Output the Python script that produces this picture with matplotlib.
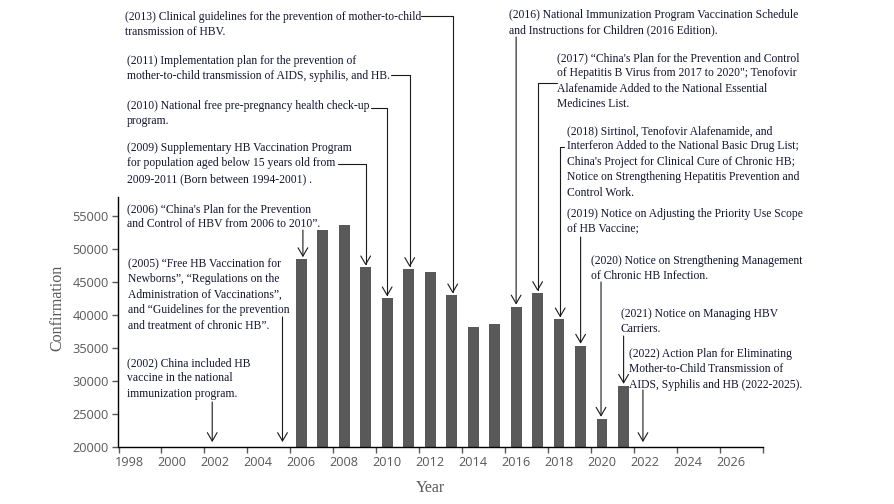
import matplotlib
matplotlib.use('Agg')
import matplotlib.pyplot as plt

# Jahreswerte (Balken)
years = list(range(2006, 2022))
cases = [48500, 52900, 53750, 47250, 42550, 47000, 46600, 43000,
         38150, 38650, 41300, 43350, 39350, 35350, 24250, 29250]

# Politische Ereignisse
policy_years = [2002, 2005, 2006, 2009, 2010, 2011, 2013,
                2016, 2017, 2018, 2019, 2020, 2021, 2022]
policy_texts = [
    "(2002) China included HB\nvaccine in the national\nimmunization program.",
    "(2005) \u201cFree HB Vaccination for\nNewborns\u201d, \u201cRegulations on the\n"
    "Administration of Vaccinations\u201d,\nand \u201cGuidelines for the prevention\n"
    "and treatment of chronic HB\u201d.",
    "(2006) \u201cChina's Plan for the Prevention\nand Control of HBV from 2006 to 2010\u201d.",
    "(2009) Supplementary HB Vaccination Program\nfor population aged below 15 years old from\n"
    "2009-2011 (Born between 1994-2001) .",
    "(2010) National free pre-pregnancy health check-up\nprogram.",
    "(2011) Implementation plan for the prevention of\n"
    "mother-to-child transmission of AIDS, syphilis, and HB.",
    "(2013) Clinical guidelines for the prevention of mother-to-child\ntransmission of HBV.",
    "(2016) National Immunization Program Vaccination Schedule\n"
    "and Instructions for Children (2016 Edition).",
    "(2017) \u201cChina's Plan for the Prevention and Control\n"
    "of Hepatitis B Virus from 2017 to 2020\"; Tenofovir\n"
    "Alafenamide Added to the National Essential\nMedicines List.",
    "(2018) Sirtinol, Tenofovir Alafenamide, and\nInterferon Added to the National Basic Drug List;\n"
    "China's Project for Clinical Cure of Chronic HB;\nNotice on Strengthening Hepatitis Prevention and\n"
    "Control Work.",
    "(2019) Notice on Adjusting the Priority Use Scope\nof HB Vaccine;",
    "(2020) Notice on Strengthening Management\nof Chronic HB Infection.",
    "(2021) Notice on Managing HBV\nCarriers.",
    "(2022) Action Plan for Eliminating\nMother-to-Child Transmission of\n"
    "AIDS, Syphilis and HB (2022-2025).",
]

# Layout (Pixel, von oben): Textposition, Linienstart, Pfeil-x
text_pos = [(127, 357), (128, 258), (127, 203), (127, 142), (127, 100), (127, 55), (125, 11),
            (509, 9), (557, 52), (567, 125), (567, 208), (591, 255), (621, 308), (629, 348)]
line_start = [(None, 402), (None, 317), (None, 230), (338, 164), (371, 108), (391, 75), (421, 16),
              (None, 37), (557, 83), (564, 147), (None, 237), (None, 282), (None, 336), (None, 390)]
arrow_x = [2001.86, 2005.13, 2006.08, 2009.0, 2010.0, 2011.05, 2013.05,
           2016.0, 2017.0, 2018.05, 2019.0, 2019.95, 2021.0, 2021.9]

W, H = 895, 504
fig = plt.figure(figsize=(W / 100, H / 100), dpi=100)
ax = fig.add_axes([118.5 / W, (H - 446.7) / H, (763.3 - 118.5) / W, 250 / H])

ax.bar(years, cases, width=0.5, color='#595959', zorder=2)

ax.set_xlim(1997.5, 2027.5)
ax.set_ylim(20000, 58000)
ax.set_yticks(range(20000, 55001, 5000))
ax.set_xticks(range(1998, 2027, 2))
ax.set_xticks([1997.5 + 2 * i for i in range(16)], minor=True)

grey = '#595959'
for lab in ax.get_xticklabels() + ax.get_yticklabels():
    lab.set_fontfamily('Open Sans')
    lab.set_fontsize(9.2)
    lab.set_color(grey)
ax.tick_params(axis='x', which='major', length=0, pad=7)
ax.tick_params(axis='x', which='minor', length=4, color=grey, width=1)
ax.tick_params(axis='y', length=4, color=grey, width=1, pad=3)

for s in ['top', 'right']:
    ax.spines[s].set_visible(False)
for s in ['left', 'bottom']:
    ax.spines[s].set_color('black')
    ax.spines[s].set_linewidth(1)

ax.set_ylabel('Confirmation', family='Liberation Serif', fontsize=11.5, color=grey)
ax.yaxis.set_label_coords(-0.083, 0.555)
ax.set_xlabel('Year', family='Liberation Serif', fontsize=11.5, color=grey)
ax.xaxis.set_label_coords(0.484, -0.135)

txt_color = '#141432'
value_of = dict(zip(years, cases))
for yr, txt, (tx, ty), (lx, ly), ax_x in zip(policy_years, policy_texts, text_pos,
                                               line_start, arrow_x):
    fig.text(tx / W, 1 - ty / H, txt, ha='left', va='top', fontsize=8.35,
             family='Liberation Serif', color=txt_color, linespacing=1.38)
    tip_y = value_of.get(yr, 20400) + 300
    props = dict(arrowstyle='->,head_length=0.6,head_width=0.35', color='#1a1a1a',
                 lw=0.8, shrinkA=0, shrinkB=0, mutation_scale=10)
    if lx is None:
        ax.annotate('', xy=(ax_x, tip_y), xytext=(ax_x, H - ly),
                    textcoords=('data', 'figure pixels'), arrowprops=props,
                    annotation_clip=False)
    else:
        props['connectionstyle'] = 'angle,angleA=0,angleB=90,rad=0'
        ax.annotate('', xy=(ax_x, tip_y), xytext=(lx, H - ly),
                    textcoords='figure pixels', arrowprops=props,
                    annotation_clip=False)

fig.savefig('out.png', dpi=100)
